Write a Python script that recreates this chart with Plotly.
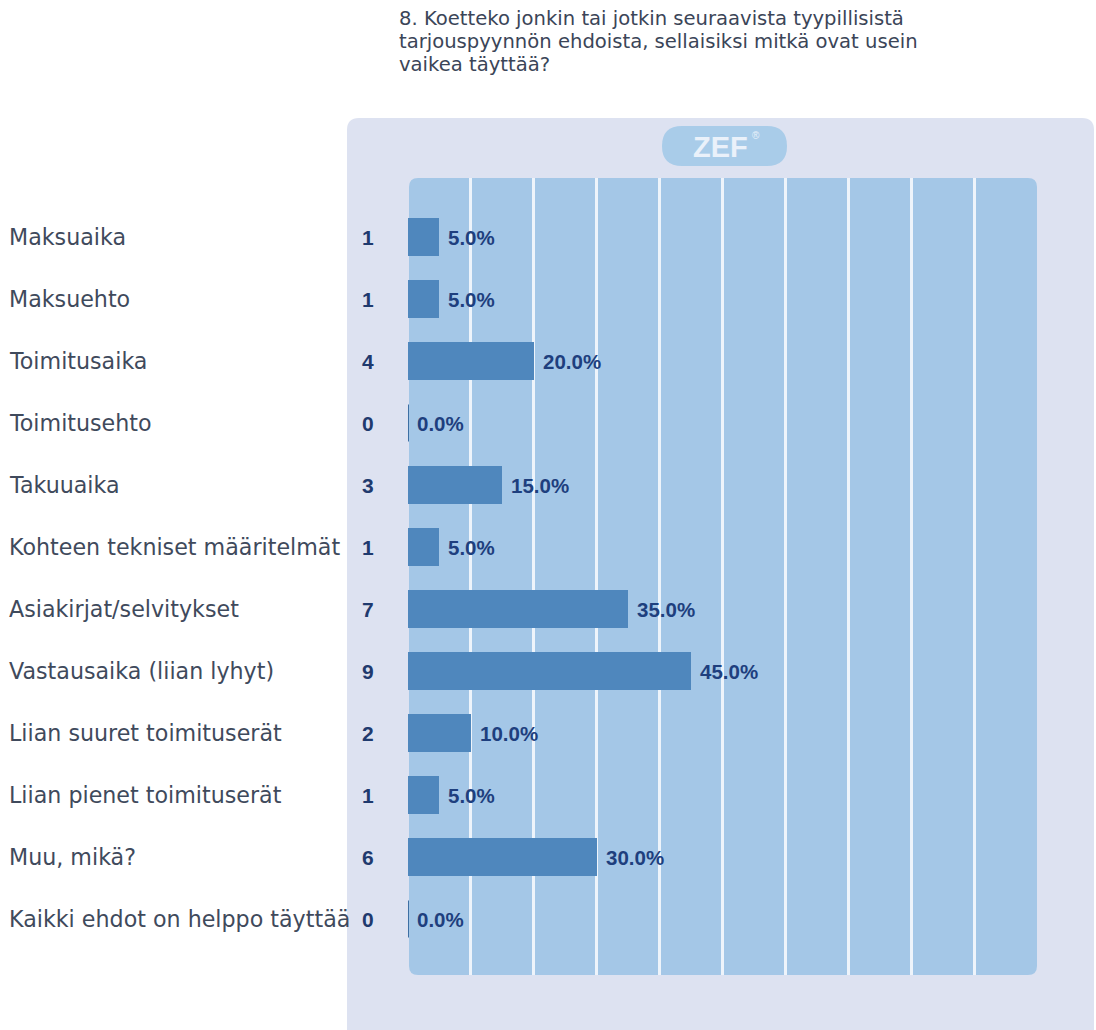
import plotly.graph_objects as go

W, H = 1096, 1030

title_lines = [
    "8. Koetteko jonkin tai jotkin seuraavista tyypillisistä",
    "tarjouspyynnön ehdoista, sellaisiksi mitkä ovat usein",
    "vaikea täyttää?",
]
categories = [
    "Maksuaika",
    "Maksuehto",
    "Toimitusaika",
    "Toimitusehto",
    "Takuuaika",
    "Kohteen tekniset määritelmät",
    "Asiakirjat/selvitykset",
    "Vastausaika (liian lyhyt)",
    "Liian suuret toimituserät",
    "Liian pienet toimituserät",
    "Muu, mikä?",
    "Kaikki ehdot on helppo täyttää",
]
counts = [1, 1, 4, 0, 3, 1, 7, 9, 2, 1, 6, 0]
percents = [5.0, 5.0, 20.0, 0.0, 15.0, 5.0, 35.0, 45.0, 10.0, 5.0, 30.0, 0.0]
grid_values = [10, 20, 30, 40, 50, 60, 70, 80, 90]
x_range = [0, 100]

LABEL_FONT = "DejaVu Sans, Liberation Sans, Arial, sans-serif"
BOLD_FONT = "Liberation Sans, Arial, sans-serif"


def px(x):
    return x / W


def py(y):
    return 1 - y / H


def rrect(x0, y0, x1, y1, r):
    rx, ry = r / W, r / H
    X0, X1 = px(x0), px(x1)
    Yt, Yb = py(y0), py(y1)
    return (
        f"M{X0+rx},{Yt} L{X1-rx},{Yt} Q{X1},{Yt} {X1},{Yt-ry} "
        f"L{X1},{Yb+ry} Q{X1},{Yb} {X1-rx},{Yb} "
        f"L{X0+rx},{Yb} Q{X0},{Yb} {X0},{Yb+ry} "
        f"L{X0},{Yt-ry} Q{X0},{Yt} {X0+rx},{Yt} Z"
    )


fig = go.Figure()
fig.add_trace(
    go.Bar(
        x=percents,
        y=categories,
        orientation="h",
        width=0.6,
        marker=dict(color="#4f87bd", line=dict(width=0)),
        hoverinfo="skip",
    )
)

shapes = [
    # outer panel
    dict(type="path", xref="paper", yref="paper", layer="below",
         path=rrect(347, 118, 1094, 1060, 12),
         fillcolor="#dde2f1", line=dict(width=0)),
    # inner plot panel
    dict(type="path", xref="paper", yref="paper", layer="below",
         path=rrect(409, 178, 1037, 975, 9),
         fillcolor="#a4c7e7", line=dict(width=0)),
    # ZEF pill
    dict(type="path", xref="paper", yref="paper", layer="below",
         path=rrect(662, 126, 787, 166, 20),
         fillcolor="#a9cce9", line=dict(width=0)),
]
# thin marks for zero-value bars
for i, p in enumerate(percents):
    if p == 0:
        shapes.append(dict(type="line", xref="x", yref="y", x0=0, x1=0,
                           y0=i - 0.3, y1=i + 0.3, layer="above",
                           line=dict(color="#3d6fa3", width=2)))

annotations = []
for j, line in enumerate(title_lines):
    annotations.append(dict(
        xref="paper", yref="paper", x=px(397), y=py(19 + 23 * j),
        xanchor="left", yanchor="middle", showarrow=False, text=line,
        font=dict(family=LABEL_FONT, size=19.6, color="#3b4558")))

for cat, c, p in zip(categories, counts, percents):
    annotations.append(dict(
        xref="paper", yref="y", x=px(7), y=cat, xanchor="left", yanchor="middle",
        showarrow=False, text=cat,
        font=dict(family=LABEL_FONT, size=22.2, color="#3f4a5c")))
    annotations.append(dict(
        xref="paper", yref="y", x=px(360), y=cat, xanchor="left", yanchor="middle",
        showarrow=False, text=f"<b>{c}</b>",
        font=dict(family=BOLD_FONT, size=21, color="#1f3a6e")))
    annotations.append(dict(
        xref="x", yref="y", x=p, y=cat, xanchor="left", yanchor="middle",
        xshift=7, showarrow=False, text=f"<b>{p:.1f}%</b>",
        font=dict(family=BOLD_FONT, size=20.5, color="#1e3f7e")))

annotations.append(dict(
    xref="paper", yref="paper", x=px(720), y=py(147), xanchor="center",
    yanchor="middle", showarrow=False, text="<b>ZEF</b>",
    font=dict(family=BOLD_FONT, size=29, color="#eaf1fa")))
annotations.append(dict(
    xref="paper", yref="paper", x=px(750), y=py(136), xanchor="left",
    yanchor="middle", showarrow=False, text="®",
    font=dict(family=BOLD_FONT, size=10, color="#eaf1fa")))

n = len(categories)
fig.update_layout(
    width=W, height=H,
    margin=dict(l=0, r=0, t=0, b=0),
    paper_bgcolor="white",
    plot_bgcolor="rgba(0,0,0,0)",
    showlegend=False,
    bargap=0,
    shapes=shapes,
    annotations=annotations,
    xaxis=dict(domain=[px(408), px(1037)], range=x_range, tickvals=grid_values,
               showticklabels=False, showgrid=True, gridcolor="#eef4fb",
               gridwidth=3, zeroline=False, showline=False, fixedrange=True),
    yaxis=dict(domain=[py(975), py(178)], type="category",
               categoryorder="array", categoryarray=categories,
               range=[n - 1 + 0.903, -0.952], showticklabels=False,
               showgrid=False, zeroline=False, showline=False, fixedrange=True),
)

fig.write_html("out.html", config={"displayModeBar": False})
